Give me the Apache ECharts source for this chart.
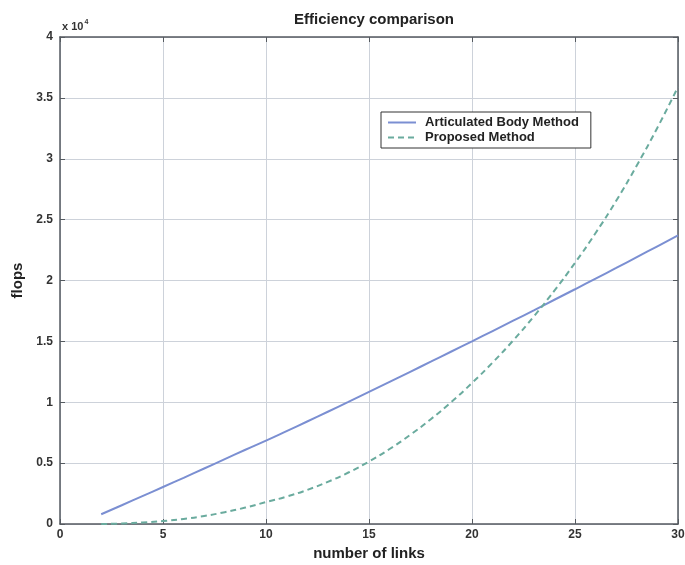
<!DOCTYPE html>
<html>
<head>
<meta charset="utf-8">
<script src="https://cdn.jsdelivr.net/npm/echarts@6/dist/echarts.min.js"></script>
<style>
  html, body { margin: 0; padding: 0; background: #fff; }
  #chart { width: 685px; height: 565px; }
</style>
</head>
<body>
<div id="chart"></div>
<script>
// number of links
const links = [2, 3, 4, 5, 6, 7, 8, 9, 10, 11, 12, 13, 14, 15, 16, 17, 18, 19, 20, 21, 22, 23, 24, 25, 26, 27, 28, 29, 30]
// flops in units of 10^4
const articulatedBody = [0.08, 0.154, 0.229, 0.304, 0.379, 0.456, 0.533, 0.61, 0.685, 0.763, 0.842, 0.922, 1.003,
  1.085, 1.167, 1.25, 1.333, 1.417, 1.5, 1.585, 1.67, 1.755, 1.842, 1.928, 2.016, 2.103, 2.192, 2.281, 2.37]
const proposed = [0.0, 0.004, 0.012, 0.024, 0.042, 0.066, 0.097, 0.135, 0.18, 0.225, 0.28, 0.346, 0.423, 0.513,
  0.616, 0.732, 0.861, 1.003, 1.158, 1.326, 1.508, 1.705, 1.917, 2.145, 2.39, 2.655, 2.945, 3.255, 3.59]
const xTicks = [0, 5, 10, 15, 20, 25, 30]
const yTicks = [0, 0.5, 1, 1.5, 2, 2.5, 3, 3.5, 4]

const font = 'Liberation Sans, Arial, sans-serif'
const gridColor = '#cdd2da'
const axisColor = '#555a60'

const chart = echarts.init(document.getElementById('chart'), null, { renderer: 'canvas' })

const pairs = (ys) => links.map((x, i) => [x, ys[i]])

// top / right axes only close the box, like matlab
const boxAxis = (extra) => Object.assign({
  type: 'value',
  axisLine: { show: true, onZero: false, lineStyle: { color: axisColor, width: 1.5 } },
  axisTick: { show: true, inside: true, length: 5, lineStyle: { color: axisColor } },
  axisLabel: { show: false },
  splitLine: { show: false }
}, extra)

chart.setOption({
  animation: false,
  backgroundColor: '#fff',
  textStyle: { fontFamily: font },
  title: [
    {
      text: 'Efficiency comparison',
      left: 369,
      top: 7,
      textAlign: 'center',
      textStyle: { fontSize: 15, fontWeight: 'bold', color: '#222', fontFamily: font }
    },
    {
      text: '{b|x 10}{s|4}',
      left: 57,
      top: 14,
      textStyle: {
        rich: {
          b: { fontSize: 11, fontWeight: 'bold', color: '#333', fontFamily: font, verticalAlign: 'bottom' },
          s: { fontSize: 7, fontWeight: 'bold', color: '#333', fontFamily: font, verticalAlign: 'top', padding: [0, 0, 6, 1] }
        }
      }
    }
  ],
  legend: {
    orient: 'vertical',
    left: 381,
    top: 112,
    padding: [4, 12, 4, 6],
    itemGap: 2,
    itemWidth: 28,
    itemHeight: 12,
    borderColor: '#333',
    borderWidth: 1,
    borderRadius: 0,
    backgroundColor: '#fff',
    itemStyle: { opacity: 0 },
    textStyle: { fontSize: 13, fontWeight: 'bold', color: '#222', fontFamily: font, padding: [0, 0, 0, 4] },
    data: ['Articulated Body Method', 'Proposed Method']
  },
  grid: { left: 60, right: 7, top: 37, bottom: 41, outerBoundsMode: 'none' },
  xAxis: [
    {
      type: 'value',
      min: 0,
      max: 30,
      interval: 5,
      name: 'number of links',
      nameLocation: 'middle',
      nameGap: 20,
      nameTextStyle: { fontSize: 15, fontWeight: 'bold', color: '#222', fontFamily: font },
      axisLine: { show: true, onZero: false, lineStyle: { color: axisColor, width: 1.5 } },
      axisTick: { show: true, inside: true, length: 5, lineStyle: { color: axisColor } },
      axisLabel: {
        fontSize: 12, fontWeight: 'bold', color: '#333', margin: 5,
        showMaxLabel: true,
        formatter: (v) => xTicks.includes(v) ? String(v) : ''
      },
      splitLine: { show: true, lineStyle: { color: gridColor, width: 1 } }
    },
    boxAxis({ position: 'top', min: 0, max: 30, interval: 5 })
  ],
  yAxis: [
    {
      type: 'value',
      min: 0,
      max: 4,
      interval: 0.5,
      name: 'flops',
      nameLocation: 'middle',
      nameGap: 34,
      nameTextStyle: { fontSize: 15, fontWeight: 'bold', color: '#222', fontFamily: font },
      axisLine: { show: true, onZero: false, lineStyle: { color: axisColor, width: 1.5 } },
      axisTick: { show: true, inside: true, length: 5, lineStyle: { color: axisColor } },
      axisLabel: {
        fontSize: 12, fontWeight: 'bold', color: '#333', margin: 7,
        formatter: (v) => yTicks.includes(v) ? String(v) : ''
      },
      splitLine: { show: true, lineStyle: { color: gridColor, width: 1 } }
    },
    boxAxis({ position: 'right', min: 0, max: 4, interval: 0.5 })
  ],
  series: [
    {
      name: 'Articulated Body Method',
      type: 'line',
      data: pairs(articulatedBody),
      showSymbol: false,
      symbol: 'none',
      smooth: true,
      lineStyle: { color: '#7b8fd2', width: 2 },
      itemStyle: { color: '#7b8fd2' }
    },
    {
      name: 'Proposed Method',
      type: 'line',
      data: pairs(proposed),
      showSymbol: false,
      symbol: 'none',
      smooth: true,
      lineStyle: { color: '#6aab9e', width: 2, type: [6, 4] },
      itemStyle: { color: '#6aab9e' }
    }
  ]
})
</script>
</body>
</html>
